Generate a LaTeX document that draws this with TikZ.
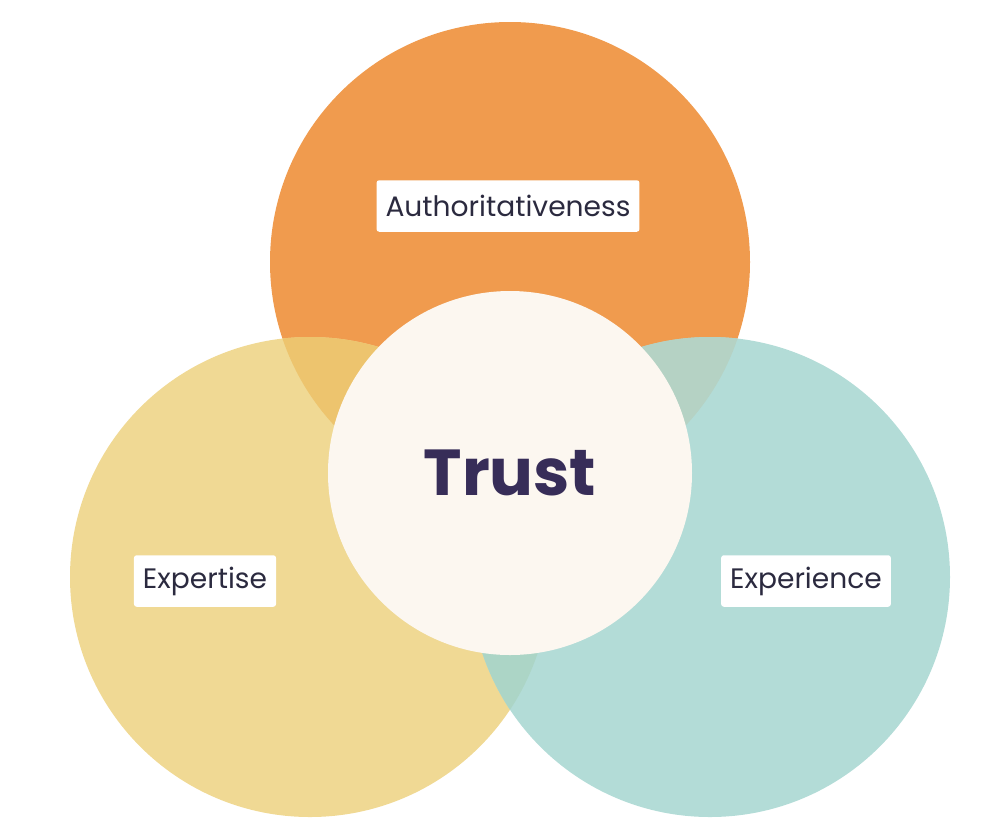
\documentclass[tikz,border=0pt]{standalone}
\usepackage{fontspec}
\setmainfont{Poppins}

\definecolor{authorange}{RGB}{240,155,78}
\definecolor{expyellow}{RGB}{240,217,148}
\definecolor{expteal}{RGB}{179,220,215}
\definecolor{yelloworange}{RGB}{237,196,110}
\definecolor{tealorange}{RGB}{181,210,196}
\definecolor{tealyellow}{RGB}{172,213,198}
\definecolor{trustfill}{RGB}{252,247,240}
\definecolor{trusttext}{RGB}{55,45,88}
\definecolor{labeltext}{RGB}{43,42,63}

\begin{document}
\begin{tikzpicture}[
    ring/.style={circle, minimum size=9.6cm, inner sep=0pt},
    tag/.style={fill=white, rounded corners=1.5pt, minimum height=1.03cm, inner xsep=0.18cm,
        text=labeltext, font=\fontsize{16}{19}\selectfont},
]
        \useasboundingbox (0,0) rectangle (20.14,-16.70);

        \node[ring, fill=authorange] (auth) at (10.2,-5.24) {};
        \node[ring, fill=expyellow] (expt) at (6.2,-11.54) {};
        \node[ring, fill=expteal] (expc) at (14.2,-11.54) {};

        % overlaps
        \begin{scope}
            \clip (auth.center) circle (4.8cm);
            \fill[yelloworange] (expt.center) circle (4.8cm);
            \fill[tealorange] (expc.center) circle (4.8cm);
        \end{scope}
        \begin{scope}
            \clip (expt.center) circle (4.8cm);
            \fill[tealyellow] (expc.center) circle (4.8cm);
        \end{scope}

        \node[circle, minimum size=7.28cm, inner sep=0pt, fill=trustfill, text=trusttext,
            font=\fontsize{37}{44}\selectfont\bfseries] (trust) at (10.2,-9.46) {Trust};

        \node[tag] (authlabel) at (10.16,-4.12) {Authoritativeness};
        \node[tag] (exptlabel) at (4.10,-11.62) {Expertise};
        \node[tag] (expclabel) at (16.12,-11.62) {Experience};

\end{tikzpicture}
\end{document}
